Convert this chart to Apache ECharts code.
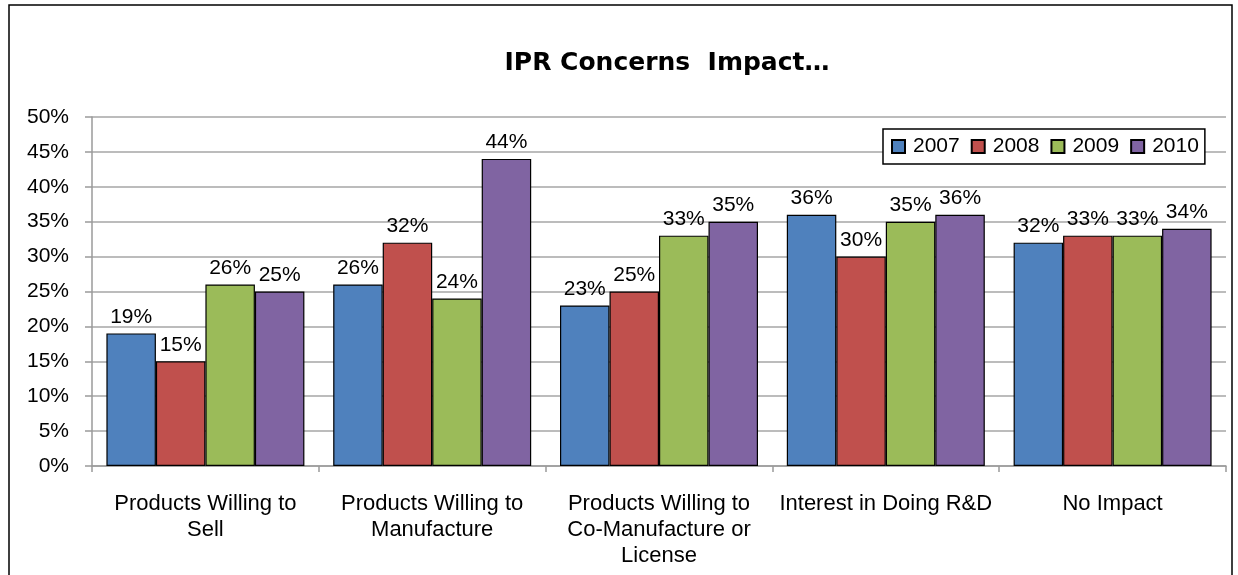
<!DOCTYPE html>
<html>
<head>
<meta charset="utf-8">
<script src="https://cdn.jsdelivr.net/npm/echarts@6/dist/echarts.min.js"></script>
<style>
html,body{margin:0;padding:0;background:#fff;}
#chart{width:1238px;height:575px;}
</style>
</head>
<body>
<div id="chart"></div>
<script>
const categories = [
  "Products Willing to\nSell",
  "Products Willing to\nManufacture",
  "Products Willing to\nCo-Manufacture or\nLicense",
  "Interest in Doing R&D",
  "No Impact"
];
const seriesNames = ["2007", "2008", "2009", "2010"];
const values2007 = [19, 26, 23, 36, 32];
const values2008 = [15, 32, 25, 30, 33];
const values2009 = [26, 24, 33, 35, 33];
const values2010 = [25, 44, 35, 36, 34];
const yTicks = [0, 5, 10, 15, 20, 25, 30, 35, 40, 45, 50];
const colors = ["#4F81BD", "#C0504D", "#9BBB59", "#8064A2"];

const font = "'Liberation Sans', Arial, sans-serif";
const allValues = [values2007, values2008, values2009, values2010];

const chart = echarts.init(document.getElementById('chart'));
chart.setOption({
  animation: false,
  backgroundColor: '#fff',
  title: {
    text: 'IPR Concerns  Impact…',
    left: 662, top: 46, textAlign: 'center',
    textStyle: { fontFamily: "'DejaVu Sans', sans-serif", fontWeight: 'bold', fontSize: 25, color: '#000' }
  },
  legend: {
    data: seriesNames,
    icon: 'rect',
    left: 883, top: 129,
    padding: [7, 6, 7, 8],
    itemWidth: 13, itemHeight: 13, itemGap: 11,
    borderColor: '#000', borderWidth: 1.5,
    backgroundColor: '#fff',
    textStyle: { fontFamily: font, fontSize: 21, color: '#000', padding: [0, 0, 0, 3] }
  },
  grid: { left: 92, right: 12, top: 117, bottom: 109, containLabel: false },
  xAxis: {
    type: 'category',
    data: categories,
    axisLine: { show: true, lineStyle: { color: '#9A9A9A', width: 1.5 } },
    axisTick: { show: true, length: 6, alignWithLabel: false, lineStyle: { color: '#9A9A9A', width: 1.5 } },
    axisLabel: { interval: 0, margin: 25, fontFamily: font, fontSize: 22, color: '#000', lineHeight: 26 }
  },
  yAxis: {
    type: 'value',
    min: yTicks[0], max: yTicks[yTicks.length - 1], interval: 5,
    axisLine: { show: true, lineStyle: { color: '#9A9A9A', width: 1.5 } },
    axisTick: { show: true, inside: false, length: 7, lineStyle: { color: '#9A9A9A', width: 1.5 } },
    splitLine: { show: true, lineStyle: { color: '#A6A6A6', width: 1.5 } },
    axisLabel: { margin: 23, fontFamily: font, fontSize: 21, color: '#000', formatter: v => v + '%' }
  },
  graphic: [{
    type: 'rect', z: 100, silent: true,
    shape: { x: 9, y: 5, width: 1223, height: 620 },
    style: { fill: 'none', stroke: '#000', lineWidth: 1.5 }
  }],
  series: seriesNames.map((name, i) => ({
    name: name,
    type: 'bar',
    data: allValues[i],
    barGap: '0%',
    barCategoryGap: '12.7%',
    itemStyle: { color: colors[i], borderColor: '#000', borderWidth: 1.2 },
    label: {
      show: true, position: 'top', distance: 6,
      fontFamily: font, fontSize: 21, color: '#000',
      formatter: p => p.value + '%'
    }
  }))
});
</script>
</body>
</html>
